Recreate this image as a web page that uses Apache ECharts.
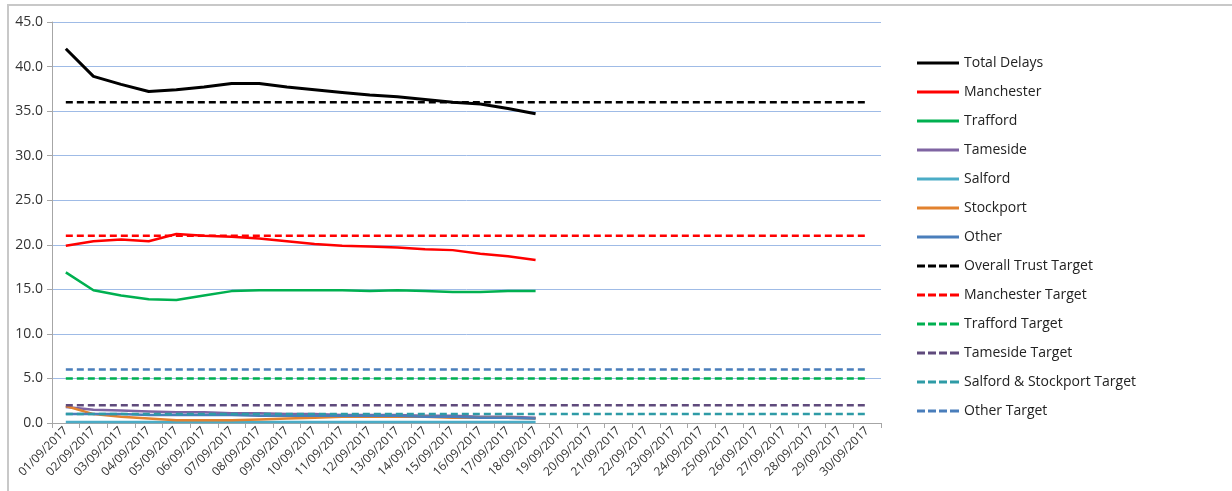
<!DOCTYPE html>
<html>
<head>
<meta charset="utf-8">
<script src="https://cdn.jsdelivr.net/npm/echarts@6/dist/echarts.min.js"></script>
<style>
  html, body { margin: 0; padding: 0; background: #fff; overflow: hidden; }
  #frame { position: absolute; left: 7px; top: 4px; width: 1240px; height: 500px;
           border-top: 2px solid #c8c8c8; border-left: 2px solid #c8c8c8; }
  #myChart { position: absolute; left: 0; top: 0; width: 1232px; height: 491px; }
</style>
</head>
<body>
<div id="frame"></div>
<div id="myChart"></div>
<script>
// ----------------데이터----------------
const dates = [];
for (let d = 1; d <= 30; d++) {
  dates.push((d < 10 ? "0" + d : "" + d) + "/09/2017");
}

const totalDelays = [42.0, 38.9, 38.0, 37.2, 37.4, 37.7, 38.1, 38.1, 37.7, 37.4, 37.1, 36.8, 36.6, 36.3, 36.0, 35.8, 35.3, 34.7];
const manchester = [19.9, 20.4, 20.6, 20.4, 21.2, 21.0, 20.9, 20.7, 20.4, 20.1, 19.9, 19.8, 19.7, 19.5, 19.4, 19.0, 18.7, 18.3];
const trafford = [16.9, 14.9, 14.3, 13.9, 13.8, 14.3, 14.8, 14.9, 14.9, 14.9, 14.9, 14.8, 14.9, 14.8, 14.7, 14.7, 14.8, 14.8];
const tameside = [1.8, 1.5, 1.4, 1.3, 1.2, 1.2, 1.1, 1.1, 1.0, 1.0, 0.9, 0.9, 0.9, 0.8, 0.8, 0.7, 0.7, 0.6];
const salford = [0.1, 0.1, 0.1, 0.1, 0.1, 0.1, 0.1, 0.1, 0.1, 0.1, 0.1, 0.1, 0.1, 0.1, 0.1, 0.1, 0.1, 0.1];
const stockport = [1.9, 1.0, 0.7, 0.5, 0.3, 0.3, 0.3, 0.4, 0.5, 0.6, 0.7, 0.7, 0.7, 0.7, 0.6, 0.6, 0.6, 0.5];
const other = [1.0, 1.0, 1.0, 0.9, 0.9, 0.9, 0.9, 0.8, 0.8, 0.8, 0.8, 0.8, 0.8, 0.7, 0.7, 0.6, 0.6, 0.5];

const overallTarget = Array(30).fill(36);
const manchesterTarget = Array(30).fill(21);
const traffordTarget = Array(30).fill(5);
const tamesideTarget = Array(30).fill(2);
const salfordStockportTarget = Array(30).fill(1);
const otherTarget = Array(30).fill(6);

// 범례 아이콘 (실선 / 점선)
const solidIcon = "path://M0,0h42v3h-42z";
const dashIcon = "path://M0,0h8v3h-8z M11,0h8v3h-8z M22,0h8v3h-8z M33,0h9v3h-9z";

// ----------------선 차트----------------
function solid(name, data, color, width) {
  return {
    name: name, type: "line", data: data, symbol: "none",
    lineStyle: { color: color, width: width || 2.5 },
    itemStyle: { color: color },
  };
}
function dashed(name, data, color) {
  return {
    name: name, type: "line", data: data, symbol: "none",
    lineStyle: { color: color, width: 2.5, type: [7, 4] },
    itemStyle: { color: color },
  };
}

const seriesList = [
  solid("Total Delays", totalDelays, "#000000", 3),
  solid("Manchester", manchester, "#ff0000"),
  solid("Trafford", trafford, "#00b050"),
  solid("Tameside", tameside, "#7f64a2"),
  solid("Salford", salford, "#4bacc6"),
  solid("Stockport", stockport, "#e2822e"),
  solid("Other", other, "#4a7ebb"),
  dashed("Overall Trust Target", overallTarget, "#000000"),
  dashed("Manchester Target", manchesterTarget, "#ff0000"),
  dashed("Trafford Target", traffordTarget, "#00b050"),
  dashed("Tameside Target", tamesideTarget, "#5f4a7c"),
  dashed("Salford & Stockport Target", salfordStockportTarget, "#2e9ba6"),
  dashed("Other Target", otherTarget, "#4a7ebb"),
];

let chartDom = document.getElementById("myChart");
let myChart = echarts.init(chartDom);
let option;

option = {
  animation: false,
  textStyle: { fontFamily: "Open Sans, Liberation Sans, sans-serif" },
  grid: { left: 52, right: 351, top: 22, bottom: 68 },
  legend: {
    orient: "vertical",
    left: 912,
    top: 51,
    itemWidth: 42,
    itemHeight: 3,
    itemGap: 15,
    textStyle: { fontSize: 14, lineHeight: 14, color: "#222" },
    data: seriesList.map((s) => ({
      name: s.name,
      icon: s.lineStyle.type ? dashIcon : solidIcon,
    })),
  },
  xAxis: {
    type: "category",
    data: dates,
    boundaryGap: true,
    axisLine: { lineStyle: { color: "#a6a6a6", width: 1 } },
    axisTick: { show: true, length: 5, lineStyle: { color: "#a6a6a6" } },
    axisLabel: { interval: 0, rotate: 45, fontSize: 12, color: "#333", margin: 6 },
  },
  yAxis: {
    type: "value",
    min: 0,
    max: 45,
    interval: 5,
    axisLine: { show: true, lineStyle: { color: "#a6a6a6" } },
    axisTick: { show: true, length: 5, lineStyle: { color: "#a6a6a6" } },
    axisLabel: { fontSize: 14, color: "#333", margin: 9, formatter: (v) => v.toFixed(1) },
    splitLine: { lineStyle: { color: "#9fbbe6", width: 1 } },
  },
  series: seriesList,
};
myChart.setOption(option);

window.onresize = function () {
  myChart.resize();
};
</script>
</body>
</html>
